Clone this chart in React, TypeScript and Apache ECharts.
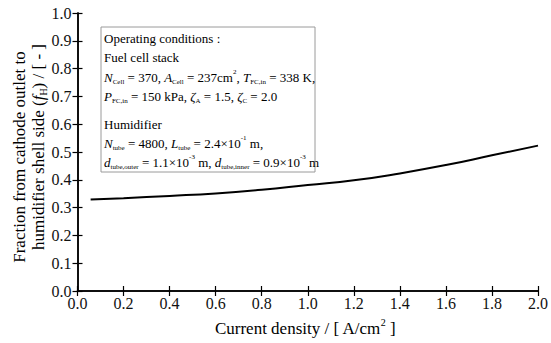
import React, { useEffect, useRef } from "react";
import * as echarts from "echarts";

const currentDensity = [0.057, 0.2, 0.4, 0.6, 0.8, 1.0, 1.2, 1.4, 1.6, 1.8, 2.0];
const fractionH = [0.329, 0.334, 0.342, 0.351, 0.364, 0.381, 0.398, 0.423, 0.453, 0.488, 0.523];

const xTicks = [0, 0.2, 0.4, 0.6, 0.8, 1.0, 1.2, 1.4, 1.6, 1.8, 2.0];
const yTicks = [0, 0.1, 0.2, 0.3, 0.4, 0.5, 0.6, 0.7, 0.8, 0.9, 1.0];

const xTitle = "{n|Current density / [ A/cm}{sup|2}{n| ]}";
const yTitle1 = "{n|Fraction from cathode outlet to}";
const yTitle2 = "{n|humidifier shell side (}{i|f}{sub|H}{n|) / [ - ]}";

const boxLines = [
  "{n|Operating conditions :}",
  "{n|Fuel cell stack}",
  "{i|N}{sub|Cell}{n| = 370, }{i|A}{sub|Cell}{n| = 237cm}{sup|2}{n|, }{i|T}{sub|FC,in}{n| = 338 K,}",
  "{i|P}{sub|FC,in}{n| = 150 kPa, }{i|ζ}{sub|A}{n| = 1.5, }{i|ζ}{sub|C}{n| = 2.0}",
  "{n|Humidifier}",
  "{i|N}{sub|tube}{n| = 4800, }{i|L}{sub|tube}{n| = 2.4×10}{sup|-1}{n| m,}",
  "{i|d}{sub|tube,outer}{n| = 1.1×10}{sup|-3}{n| m, }{i|d}{sub|tube,inner}{n| = 0.9×10}{sup|-3}{n| m}",
];
const boxLineY = [38, 57, 77, 96, 124, 143, 162];

const FONT = "Liberation Serif";

function richStyles(size: number, subRatio: number) {
  const lh = size + 4;
  const s = Math.round(size * subRatio);
  return {
    n: { fontSize: size, fontFamily: FONT, color: "#111", lineHeight: lh, verticalAlign: "middle" },
    i: { fontSize: size, fontFamily: FONT, fontStyle: "italic", color: "#111", lineHeight: lh, verticalAlign: "middle" },
    sub: { fontSize: s, fontFamily: FONT, color: "#111", lineHeight: lh, verticalAlign: "bottom" },
    sup: { fontSize: s, fontFamily: FONT, color: "#111", lineHeight: lh, verticalAlign: "top" },
  };
}

export default function App() {
  const ref = useRef<HTMLDivElement>(null);
  useEffect(() => {
    if (!ref.current) return;
    const chart = echarts.init(ref.current, null, { renderer: "svg" });
    const data = currentDensity.map((x, i) => [x, fractionH[i]]);
    const axisLine = { lineStyle: { color: "#000", width: 1.5 } };
    const axisTick = { inside: true, length: 5, lineStyle: { color: "#000", width: 1.2 } };
    const option: any = {
      animation: false,
      backgroundColor: "#fff",
      textStyle: { fontFamily: FONT },
      grid: { left: 77.5, right: 11, top: 13, bottom: 52, containLabel: false },
      xAxis: [
        {
          type: "value",
          min: xTicks[0],
          max: xTicks[xTicks.length - 1],
          interval: 0.2,
          position: "bottom",
          axisLine,
          axisTick,
          splitLine: { show: false },
          axisLabel: {
            color: "#111",
            fontFamily: FONT,
            fontSize: 16,
            margin: 4,
            formatter: (v: number) => v.toFixed(1),
          },
        },
        {
          type: "value",
          min: xTicks[0],
          max: xTicks[xTicks.length - 1],
          interval: 0.2,
          position: "top",
          axisLine,
          axisTick,
          splitLine: { show: false },
          axisLabel: { show: false },
        },
      ],
      yAxis: [
        {
          type: "value",
          min: yTicks[0],
          max: yTicks[yTicks.length - 1],
          interval: 0.1,
          position: "left",
          axisLine,
          axisTick,
          splitLine: { show: false },
          axisLabel: {
            color: "#111",
            fontFamily: FONT,
            fontSize: 16,
            margin: 6,
            formatter: (v: number) => v.toFixed(1),
          },
        },
        {
          type: "value",
          min: yTicks[0],
          max: yTicks[yTicks.length - 1],
          interval: 0.1,
          position: "right",
          axisLine,
          axisTick,
          splitLine: { show: false },
          axisLabel: { show: false },
        },
      ],
      series: [
        {
          type: "line",
          data,
          smooth: true,
          showSymbol: false,
          lineStyle: { color: "#000", width: 2 },
        },
      ],
      graphic: [
        {
          type: "rect",
          shape: { x: 101, y: 27, width: 214, height: 145 },
          style: { fill: "#fff", stroke: "#9a9a9a", lineWidth: 1 },
          z: 10,
        },
        ...boxLines.map((t, k) => ({
          type: "text",
          x: 104,
          y: boxLineY[k],
          z: 11,
          style: {
            text: t,
            rich: richStyles(13, 0.55),
            align: "left",
            verticalAlign: "middle",
          },
        })),
        {
          type: "text",
          x: 305,
          y: 328,
          z: 11,
          style: { text: xTitle, rich: richStyles(17, 0.6), align: "center", verticalAlign: "middle" },
        },
        {
          type: "text",
          x: 19,
          y: 157,
          rotation: Math.PI / 2,
          z: 11,
          style: { text: yTitle1, rich: richStyles(17, 0.6), align: "center", verticalAlign: "middle" },
        },
        {
          type: "text",
          x: 38,
          y: 147,
          rotation: Math.PI / 2,
          z: 11,
          style: { text: yTitle2, rich: richStyles(17, 0.6), align: "center", verticalAlign: "middle" },
        },
      ],
    };
    chart.setOption(option);
    return () => chart.dispose();
  }, []);
  return <div ref={ref} style={{ width: 551, height: 343, position: "absolute", left: 0, top: 0 }} />;
}
